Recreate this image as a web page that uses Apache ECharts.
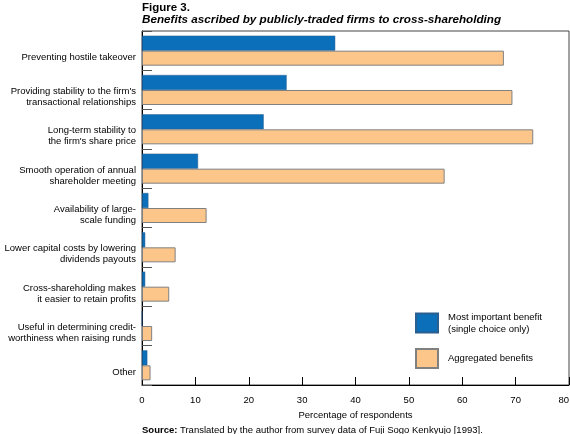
<!DOCTYPE html>
<html>
<head>
<meta charset="utf-8">
<script src="https://cdn.jsdelivr.net/npm/echarts@6/dist/echarts.min.js"></script>
<style>
  html, body { margin: 0; padding: 0; background: #fff; }
  #chart { width: 570px; height: 434px; }
</style>
</head>
<body>
<div id="chart"></div>
<script>
const categories = [
  'Preventing hostile takeover',
  'Providing stability to the firm\'s\ntransactional relationships',
  'Long-term stability to\nthe firm\'s share price',
  'Smooth operation of annual\nshareholder meeting',
  'Availability of large-\nscale funding',
  'Lower capital costs by lowering\ndividends payouts',
  'Cross-shareholding makes\nit easier to retain profits',
  'Useful in determining credit-\nworthiness when raising runds',
  'Other'
];
const mostImportant = [36.2, 27.1, 22.8, 10.5, 1.2, 0.6, 0.6, 0, 1.0];
const aggregated = [67.8, 69.4, 73.3, 56.7, 12.1, 6.3, 5.1, 1.9, 1.6];
const xTicks = [0, 10, 20, 30, 40, 50, 60, 70, 80];

const FONT = '"Liberation Sans", Arial, Helvetica, sans-serif';

const chart = echarts.init(document.getElementById('chart'), null, { renderer: 'canvas' });

const option = {
  backgroundColor: '#fff',
  animation: false,
  textStyle: { fontFamily: FONT },
  title: [
    {
      text: 'Figure 3.',
      subtext: 'Benefits ascribed by publicly-traded firms to cross-shareholding',
      left: 142,
      top: 2,
      padding: 0,
      itemGap: 0,
      textStyle: { fontFamily: FONT, fontSize: 11.5, fontWeight: 'bold', color: '#000' },
      subtextStyle: { fontFamily: FONT, fontSize: 11.7, fontWeight: 'bold', fontStyle: 'italic', color: '#000' }
    },
    {
      text: '{b|Source:} Translated by the author from survey data of Fuji Sogo Kenkyujo [1993].',
      left: 142,
      top: 425,
      padding: 0,
      textStyle: {
        fontFamily: FONT, fontSize: 9.5, fontWeight: 'normal', color: '#000',
        rich: { b: { fontFamily: FONT, fontSize: 9.5, fontWeight: 'bold', color: '#000' } }
      }
    }
  ],
  legend: {
    orient: 'vertical',
    left: 410,
    top: 306,
    itemWidth: 22,
    itemHeight: 19,
    itemGap: 13,
    icon: 'rect',
    textStyle: { fontFamily: FONT, fontSize: 9.5, color: '#000', lineHeight: 12, padding: [0, 0, 0, 5] },
    formatter: function (name) {
      return name === 'Most important benefit' ? 'Most important benefit\n(single choice only)' : name;
    },
    data: ['Most important benefit', 'Aggregated benefits']
  },
  grid: {
    left: 142,
    right: 1,
    top: 31,
    bottom: 49,
    outerBoundsMode: 'none',
    containLabel: false,
    show: true,
    borderColor: '#444',
    borderWidth: 1
  },
  xAxis: {
    type: 'value',
    min: xTicks[0],
    max: xTicks[xTicks.length - 1],
    interval: 10,
    name: 'Percentage of respondents',
    nameLocation: 'middle',
    nameGap: 21,
    nameTextStyle: { fontFamily: FONT, fontSize: 9.5, color: '#000' },
    axisLine: { show: true, lineStyle: { color: '#000', width: 1 } },
    axisTick: { show: true, inside: true, length: 8, lineStyle: { color: '#000', width: 1 } },
    axisLabel: { fontFamily: FONT, fontSize: 9.5, color: '#000', margin: 10, alignMaxLabel: 'right' },
    splitLine: { show: false }
  },
  yAxis: {
    type: 'category',
    inverse: true,
    data: categories,
    axisLine: { show: true, lineStyle: { color: '#000', width: 1 } },
    axisTick: { show: true, inside: true, length: 10, lineStyle: { color: '#555', width: 1 } },
    axisLabel: {
      margin: 6,
      // empty spacer line on top pushes the text block down a little
      formatter: function (value) {
        return '{s| }\n' + value.split('\n').map(function (line) {
          return '{a|' + line + '}';
        }).join('\n');
      },
      rich: {
        s: { fontSize: 1, lineHeight: 14 },
        a: { fontFamily: FONT, fontSize: 9.5, color: '#000', lineHeight: 11 }
      }
    }
  },
  series: [
    {
      name: 'Most important benefit',
      type: 'bar',
      data: mostImportant,
      barWidth: 15,
      barGap: '0%',
      itemStyle: { color: '#0b6fba', borderColor: '#2a5f8f', borderWidth: 0.5 }
    },
    {
      name: 'Aggregated benefits',
      type: 'bar',
      data: aggregated,
      barWidth: 15,
      barGap: '0%',
      itemStyle: { color: '#fcc68b', borderColor: '#808080', borderWidth: 1 }
    }
  ]
};

chart.setOption(option);
</script>
</body>
</html>
